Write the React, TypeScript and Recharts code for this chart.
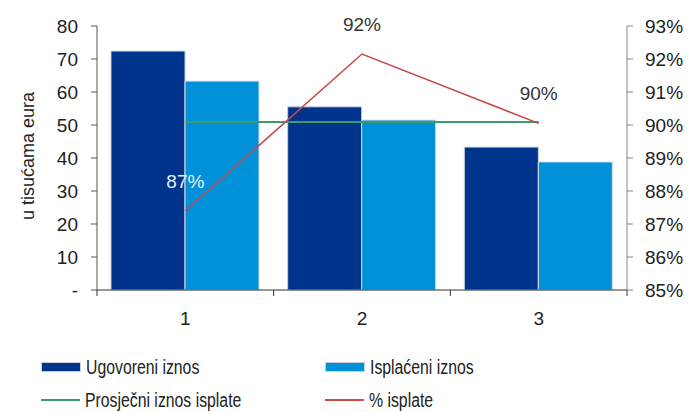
import React from "react";
import {
  ComposedChart,
  Bar,
  Line,
  XAxis,
  YAxis,
  Legend,
  LabelList,
} from "recharts";

const categories = ["1", "2", "3"];
const ugovoreni = [72.4, 55.5, 43.3];
const isplaceni = [63.3, 51.5, 38.8];
const prosjecni = [50.9, 50.9, 50.9];
const postotak = [87.4, 92.15, 90.05];
const postotakLabels = ["87%", "92%", "90%"];
const leftTicks = [0, 10, 20, 30, 40, 50, 60, 70, 80];
const rightTicks = [85, 86, 87, 88, 89, 90, 91, 92, 93];
const leftAxisTitle = "u tisućama eura";

const data = categories.map((c, i) => ({
  cat: c,
  ugovoreni: ugovoreni[i],
  isplaceni: isplaceni[i],
  prosjecni: prosjecni[i],
  postotak: postotak[i],
  label: postotakLabels[i],
}));

const FONT = "'Liberation Sans', Arial, sans-serif";
const DARK = "#00338c";
const LIGHT = "#0091d9";
const GREEN = "#3a9a6a";
const RED = "#c94848";
const BAND = 530 / 3;
const FS = 19;

const XTick = (props: any) => {
  const { x, y, payload, index } = props;
  return (
    <g>
      <line x1={x - BAND / 2} x2={x - BAND / 2} y1={y} y2={y + 6} stroke="#333" />
      {index === categories.length - 1 && (
        <line x1={x + BAND / 2} x2={x + BAND / 2} y1={y} y2={y + 6} stroke="#333" />
      )}
      <text x={x} y={y + 35} textAnchor="middle" fontSize={FS} fill="#222" fontFamily={FONT}>
        {payload.value}
      </text>
    </g>
  );
};

const AxisTitle = () => {
  const cx = 34;
  const cy = 156;
  return (
    <text
      x={cx}
      y={cy}
      transform={`rotate(-90, ${cx}, ${cy})`}
      textAnchor="middle"
      fontSize={18}
      fill="#222"
      fontFamily={FONT}
    >
      {leftAxisTitle}
    </text>
  );
};

const PctLabel = (props: any) => {
  const { x, y, index } = props;
  return (
    <text
      x={x}
      y={y - 23}
      textAnchor="middle"
      fontSize={FS}
      fill={index === 0 ? "#e8ecf4" : "#333"}
      fontFamily={FONT}
    >
      {postotakLabels[index]}
    </text>
  );
};

const LegendContent = () => {
  const item = (left: number, top: number, swatch: React.ReactNode, text: string) => (
    <div style={{ position: "absolute", left, top, display: "flex", alignItems: "center", height: 22 }}>
      {swatch}
      <span
        style={{
          marginLeft: 5,
          fontSize: 20,
          lineHeight: "22px",
          color: "#222",
          fontFamily: FONT,
          display: "inline-block",
          transform: "scaleX(0.79)",
          transformOrigin: "left center",
          whiteSpace: "nowrap",
        }}
      >
        {text}
      </span>
    </div>
  );
  const rect = (c: string) => (
    <div style={{ width: 38, height: 8, background: c, border: "1px solid #c8d0dc" }} />
  );
  const line = (c: string) => <div style={{ width: 39, height: 1.5, background: c }} />;
  return (
    <div style={{ position: "relative", width: 692, height: 72 }}>
      {item(41, 16, rect(DARK), "Ugovoreni iznos")}
      {item(325, 16, rect(LIGHT), "Isplaćeni iznos")}
      {item(41, 49, line(GREEN), "Prosječni iznos isplate")}
      {item(325, 49, line(RED), "% isplate")}
    </div>
  );
};

export default function App() {
  return (
    <div style={{ position: "absolute", left: 0, top: 0, width: 692, height: 412, background: "#fff", overflow: "hidden" }}>
      <ComposedChart
        width={692}
        height={412}
        data={data}
        margin={{ top: 26, right: 0, bottom: 0, left: 0 }}
        barCategoryGap={14}
        barGap={0}
      >
        <XAxis
          dataKey="cat"
          xAxisId="x"
          tick={<XTick />}
          tickLine={false}
          tickSize={0}
          tickMargin={0}
          height={50}
          axisLine={{ stroke: "#333" }}
          interval={0}
        />
        <YAxis
          yAxisId="left"
          orientation="left"
          width={97}
          domain={[0, 80]}
          ticks={leftTicks}
          tickFormatter={(v: number) => (v === 0 ? "-" : String(v))}
          tick={{ fontSize: FS, fill: "#222", fontFamily: FONT }}
          tickSize={6}
          tickMargin={13}
          axisLine={{ stroke: "#555" }}
          tickLine={{ stroke: "#555" }}
        />
        <YAxis
          yAxisId="right"
          orientation="right"
          width={65}
          domain={[85, 93]}
          ticks={rightTicks}
          tickFormatter={(v: number) => `${v}%`}
          tick={{ fontSize: FS, fill: "#222", fontFamily: FONT }}
          tickSize={6}
          tickMargin={12}
          axisLine={{ stroke: "#888" }}
          tickLine={{ stroke: "#888" }}
        />
        <Bar
          xAxisId="x"
          yAxisId="left"
          dataKey="ugovoreni"
          name="Ugovoreni iznos"
          fill={DARK}
          stroke="#c8d0dc"
          strokeWidth={1}
          isAnimationActive={false}
        />
        <Bar
          xAxisId="x"
          yAxisId="left"
          dataKey="isplaceni"
          name="Isplaćeni iznos"
          fill={LIGHT}
          stroke="#d8dde4"
          strokeWidth={1}
          isAnimationActive={false}
        />
        <Line
          xAxisId="x"
          yAxisId="left"
          dataKey="prosjecni"
          name="Prosječni iznos isplate"
          stroke={GREEN}
          strokeWidth={2}
          dot={false}
          isAnimationActive={false}
        />
        <Line
          xAxisId="x"
          yAxisId="right"
          dataKey="postotak"
          name="% isplate"
          stroke={RED}
          strokeWidth={1.5}
          dot={false}
          isAnimationActive={false}
        >
          <LabelList dataKey="label" content={<PctLabel />} />
        </Line>
        <Legend verticalAlign="bottom" height={72} content={<LegendContent />} />
        <AxisTitle />
      </ComposedChart>
    </div>
  );
}
